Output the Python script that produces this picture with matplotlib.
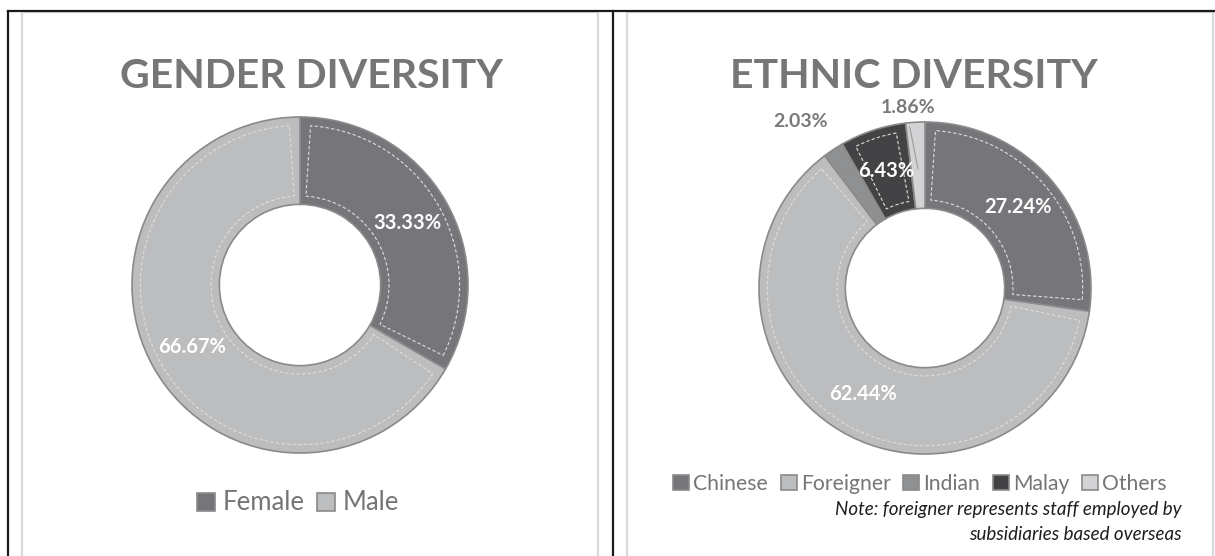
import matplotlib.pyplot as plt
from matplotlib.patches import Wedge
from matplotlib.lines import Line2D
import numpy as np

# data
gender_labels = ["Female", "Male"]
gender_values = [33.33, 66.67]
gender_colors = ["#76767a", "#bcbdbf"]

ethnic_labels = ["Chinese", "Foreigner", "Indian", "Malay", "Others"]
ethnic_values = [27.24, 62.44, 2.03, 6.43, 1.86]
ethnic_colors = ["#76767a", "#bcbdbf", "#8f9092", "#434345", "#d3d3d5"]
ethnic_outside = ["Indian", "Others"]  # labels drawn outside the ring

note_lines = ["Note: foreigner represents staff employed by",
              "subsidiaries based overseas"]

W, H = 1215, 556
FONT = "Lato"
RING = 0.52
# where the outside labels go: (radius, x shift, leader line?)
OUTSIDE_POS = {"Indian": (1.2, -0.09, False), "Others": (1.09, -0.04, True)}


def fx(px):
    return px / W


def fy(py):
    return 1 - py / H


def donut(cx, cy, radius_px, values, colors, labels, outside=()):
    half = 200
    ax = fig.add_axes([fx(cx - half), fy(cy + half), 2 * half / W, 2 * half / H])
    lim = half / radius_px
    wedges, _ = ax.pie(values, colors=colors, startangle=90, counterclock=False,
                       radius=1, wedgeprops=dict(width=RING, edgecolor="#8a8a8a", linewidth=1.2))
    ax.set_xlim(-lim, lim)
    ax.set_ylim(-lim, lim)
    ax.set_aspect("equal")
    ax.axis("off")

    for w, v, lab in zip(wedges, values, labels):
        # dashed inner outline, like the scanned original
        t1, t2 = w.theta1, w.theta2
        pad = np.degrees(0.05 / 0.75)
        if t2 - t1 > 2 * pad + 2:
            ax.add_patch(Wedge((0, 0), 0.95, t1 + pad, t2 - pad, width=RING - 0.1,
                               fill=False, edgecolor="#dedede", linewidth=0.8,
                               linestyle=(0, (3, 2))))
        mid = np.radians((t1 + t2) / 2)
        txt = f"{v:.2f}%"
        if lab in outside:
            rt, dx, leader = OUTSIDE_POS[lab]
            if leader:
                ax.plot([0.72 * np.cos(mid), 0.97 * np.cos(mid) - 0.035],
                        [0.72 * np.sin(mid), 0.97 * np.sin(mid)], color="#a0a0a0", lw=0.9)
            ax.text(rt * np.cos(mid) + dx, rt * np.sin(mid), txt,
                    ha="center", va="center", fontsize=14, fontweight="bold",
                    color="#7a7a7a", family=FONT)
        else:
            rm = 1 - RING / 2
            ax.text(rm * np.cos(mid), rm * np.sin(mid), txt, ha="center", va="center",
                    fontsize=14.5, fontweight="bold", color="white", family=FONT)
    return wedges


fig = plt.figure(figsize=(W / 100, H / 100), dpi=100)

# table borders and chart frames
frame = "#d9d9d9"
for x0, x1 in [(22, 598), (627, 1213)]:
    fig.add_artist(Line2D([fx(x0), fx(x0), fx(x1), fx(x1)], [0, fy(12), fy(12), 0],
                          color=frame, lw=1.6))
fig.add_artist(Line2D([fx(8), 1], [fy(11), fy(11)], color="#1a1a1a", lw=1.6))
for x in (8, 613):
    fig.add_artist(Line2D([fx(x), fx(x)], [0, fy(11)], color="#1a1a1a", lw=1.6))

# gender panel
fig.text(fx(311), fy(77), "GENDER DIVERSITY", ha="center", va="center", fontsize=29.5,
         fontweight="bold", color="#767676", family=FONT)
gw = donut(300, 285, 168, gender_values, gender_colors, gender_labels)
fig.legend(gw, gender_labels, loc="center", bbox_to_anchor=(fx(298), fy(503)), ncol=2,
           frameon=False, prop=dict(family=FONT, size=18.5), labelcolor="#757575",
           handlelength=0.7, handleheight=0.7, handletextpad=0.3, columnspacing=0.5)

# ethnic panel
fig.text(fx(914), fy(76), "ETHNIC DIVERSITY", ha="center", va="center", fontsize=29.5,
         fontweight="bold", color="#767676", family=FONT)
ew = donut(925, 288, 166, ethnic_values, ethnic_colors, ethnic_labels, ethnic_outside)
fig.legend(ew, ethnic_labels, loc="center", bbox_to_anchor=(fx(920), fy(484)), ncol=5,
           frameon=False, prop=dict(family=FONT, size=15.2), labelcolor="#757575",
           handlelength=0.75, handleheight=0.75, handletextpad=0.2, columnspacing=0.6)
for i, line in enumerate(note_lines):
    fig.text(fx(1182), fy(510 + 24 * i), line, ha="right", va="center", fontsize=13.5,
             style="italic", color="#1e1e1e", family=FONT)

fig.savefig("out.png", dpi=100)
